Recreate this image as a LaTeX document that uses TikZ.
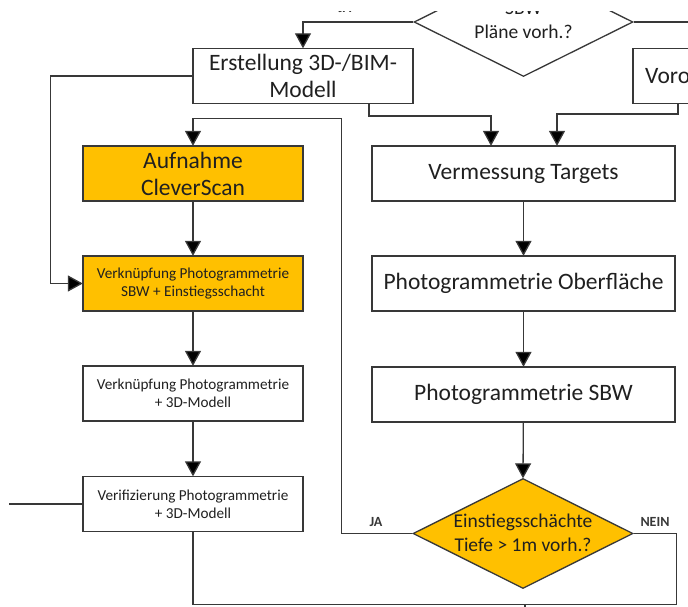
\documentclass[tikz,border=0pt]{standalone}
\usepackage{fontspec}
\setmainfont{Carlito}
\usetikzlibrary{arrows.meta,shapes.geometric}
\definecolor{ln}{HTML}{383838}
\definecolor{tx}{HTML}{202020}
\definecolor{orng}{HTML}{FFC000}
\tikzset{
  box/.style={draw=ln,line width=1.3pt,fill=white,rectangle,minimum width=220pt,minimum height=55pt,inner sep=0pt,align=center,text=tx},
  wbox/.style={box,minimum width=303pt},
  obox/.style={box,fill=orng},
  big/.style={font=\fontsize{23.5}{27}\selectfont},
  small/.style={font=\fontsize{15.2}{18}\selectfont},
  mid/.style={font=\fontsize{19.5}{23.5}\selectfont},
  dia/.style={draw=ln,line width=1.3pt,diamond,inner sep=0pt,minimum width=219pt,minimum height=109pt},
  con/.style={draw=ln,line width=1.3pt},
  arr/.style={con,-{Triangle[width=16pt,length=15pt,fill=black]},shorten >=-0.5pt},
  lab/.style={font=\fontsize{14}{16}\selectfont\bfseries,text=ln,inner sep=0pt}
}
\begin{document}
\begin{tikzpicture}[x=1pt,y=-1pt]
\useasboundingbox (0,0) rectangle (688,607);
\clip (0,11.5) rectangle (688,607);
% top decision
\node[dia,fill=white] (d1) at (523.5,22) {};
\node[mid,text=tx,anchor=base] (d1a) at (523.5,15) {SBW};
\node[mid,text=tx,anchor=base] (d1b) at (523.5,39) {Pläne vorh.?};
\node[lab,anchor=base] (ja1) at (345,12.5) {JA};
% boxes
\node[box,big] (erst) at (303,76) {Erstellung 3D-/BIM-\\Modell};
\node[box,big,minimum width=200pt] (vorc) at (733,76) {};
\node[big,text=tx,anchor=west,inner sep=0pt] (vorct) at (645,76) {Vorort};
\node[obox,big] (aufn) at (193,173.5) {Aufnahme\\CleverScan};
\node[obox,small] (verk1) at (193,283.5) {Verknüpfung Photogrammetrie\\SBW + Einstiegsschacht};
\node[box,small] (verk2) at (193,393.5) {Verknüpfung Photogrammetrie\\+ 3D-Modell};
\node[box,small] (verif) at (193,504) {Verifizierung Photogrammetrie\\+ 3D-Modell};
\node[wbox,big] (verm) at (523.5,173.5) {Vermessung Targets};
\node[wbox,big] (photoO) at (523.5,283.5) {Photogrammetrie Oberfläche};
\node[wbox,big] (photoS) at (523.5,394.5) {Photogrammetrie SBW};
% bottom decision
\node[dia,fill=orng,minimum width=220pt,minimum height=110pt] (d2) at (523,533.5) {};
\node[mid,text=tx,align=center,inner sep=0pt] (d2t) at (523,533) {Einstiegsschächte\\Tiefe > 1m vorh.?};
\node[lab] (ja2) at (376,522) {JA};
\node[lab] (nein) at (655,522) {NEIN};
% connectors
\draw[arr] (d1.west) -| (erst.north);
\draw[con] (d1.east) -- ++(70,0);
\draw[arr] (erst.west) -- ++(-142,0) |- (verk1.west);
\draw[arr] ([xshift=66pt]erst.south) -- ++(0,12) -| ([xshift=-32.5pt]verm.north);
\draw[arr] ([xshift=-55pt]vorc.south) -- ++(0,10) -| ([xshift=33.5pt]verm.north);
\draw[arr] (d2.west) -- ++(-71,0) |- ([yshift=27pt]aufn.north) -- (aufn.north);
\draw[arr] (aufn) -- (verk1);
\draw[arr] (verk1) -- (verk2);
\draw[arr] (verk2) -- (verif);
\draw[con] (verif.west) -- ++(-73,0);
\coordinate (m) at (525,604.5);
\draw[con] (verif.south) |- (m);
\draw[con] (d2.east) -- ++(43,0) |- (m);
\draw[con] (m) -- ++(0,10);
\draw[arr] (verm) -- (photoO);
\draw[arr] (photoO) -- (photoS);
\draw[arr] (photoS) -- (d2.north);
\end{tikzpicture}
\end{document}
